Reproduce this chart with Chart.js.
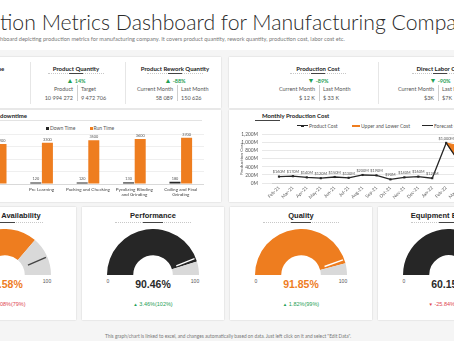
<!DOCTYPE html>
<html>
<head>
<meta charset="utf-8">
<title>Production Metrics Dashboard</title>
<script src="https://cdn.jsdelivr.net/npm/chart.js@4.4.1/dist/chart.umd.min.js"></script>
<style>
  html, body { margin:0; padding:0; }
  body { width:454px; height:341px; overflow:hidden; background:#f5f5f5; font-family:"Liberation Sans", Arial, sans-serif; color:#333; }
  #page { position:relative; width:454px; height:341px; overflow:hidden; }
  .t { position:absolute; white-space:nowrap; line-height:1; }
  .cx { transform:translate(-50%,-50%); }
  .rx { transform:translate(-100%,-50%); }
  .lx { transform:translate(0,-50%); }
  .card { position:absolute; background:#fff; box-shadow:0 0 1.5px rgba(0,0,0,0.18); }
  .ln { position:absolute; }
  canvas { position:absolute; }
</style>
</head>
<body>
<div id="page"></div>
<script>
// ---- KPI tiles ----
const kpiNames   = ['Product Quantity', 'Product Rework Quantity', 'Production Cost', 'Direct Labor Cost'];
const kpiChange  = ['14%', '-88%', '-89%', '-90%'];
const kpiArrow   = ['up', 'up', 'down', 'down'];
const kpiLabelA  = ['Product', 'Current Month', 'Current Month', 'Current Month'];
const kpiLabelB  = ['Target', 'Last Month', 'Last Month', 'Last Month'];
const kpiValueA  = ['10 994 272', '58 089', '$ 12 K', '$3K'];
const kpiValueB  = ['9 472 706', '150 626', '$ 33 K', '$7K'];

// ---- Machine downtime ----
const stages   = ['Saw', 'Pre Learning', 'Packing and Checking', ['Pyrolizing Blinding', 'and Grinding'], ['Coiling and Final', 'Grinding']];
const downTime = [120, 120, 120, 130, 180];
const runTime  = [3200, 3300, 3500, 3600, 3700];

// ---- Monthly production cost ----
const months        = ['Feb-21','Mar-21','Apr-21','May-21','Jun-21','Jul-21','Aug-21','Sep-21','Oct-21','Nov-21','Dec-21','Jan-22','Feb-22','Mar-22','Apr-22'];
const productCost   = [160, 170, 140, 120, 150, 130, 200, 190, 90, 140, 160, 120, 1000, null, null];
const forecastCost  = [null, null, null, null, null, null, null, null, null, null, null, null, 1000, 490, 520];
const upperCost     = [null, null, null, null, null, null, null, null, null, null, null, null, 1000, 920, 950];
const lowerCost     = [null, null, null, null, null, null, null, null, null, null, null, null, 1000, 490, 520];

// ---- OEE gauges ----
const gaugeNames   = ['Machine Availability', 'Performance', 'Quality', 'Equipment Efficiency'];
const gaugeValues  = [72.58, 90.46, 91.85, 60.15];
const gaugeTargets = [87, 88, 89, 75];
const gaugeDeltas  = ['-19.08%(79%)', '3.46%(102%)', '1.82%(99%)', '-25.84%(70%)'];
const gaugeTrend   = ['down', 'up', 'up', 'down'];

const ORANGE = '#ee7d1f', DARK = '#262626', GREY = '#d9d9d9', GREEN = '#1fa055', RED = '#e0454f';
const page = document.getElementById('page');
const mctx = document.createElement('canvas').getContext('2d');
const measure = (s, font) => { mctx.font = font; return mctx.measureText(s).width; };

function txt(str, x, y, align, style) {
  const d = document.createElement('div');
  d.className = 't ' + (align === 'c' ? 'cx' : align === 'r' ? 'rx' : 'lx');
  d.style.left = x + 'px'; d.style.top = y + 'px';
  Object.assign(d.style, style || {});
  d.textContent = str;
  page.appendChild(d);
  return d;
}
function rect(x, y, w, h, style, cls) {
  const d = document.createElement('div');
  d.className = cls || 'ln';
  Object.assign(d.style, { left: x + 'px', top: y + 'px', width: w + 'px', height: h + 'px' }, style || {});
  page.appendChild(d);
  return d;
}
function canvasAt(x, y, w, h) {
  const c = document.createElement('canvas');
  c.width = w; c.height = h;
  c.style.left = x + 'px'; c.style.top = y + 'px';
  c.style.width = w + 'px'; c.style.height = h + 'px';
  page.appendChild(c);
  return c;
}
function underline(cx, y, half, darkHalf) {
  rect(cx - half, y, half * 2, 0, { borderTop: '0.6px dotted #c8c8c8' });
  rect(cx - darkHalf, y - 0.3, darkHalf * 2, 1, { background: '#444' });
}

// ---- header ----
rect(0, 0, 454, 50, { background: '#fff' });
const titleFull = 'Production Metrics Dashboard for Manufacturing Company';
let tfs = 20;
tfs = tfs * 447 / measure('tion Metrics Dashboard for Manufacturing Comp', `300 ${tfs}px Lato`);
txt(titleFull, -measure('Produc', `300 ${tfs}px Lato`), 22, 'l', { font: `300 ${tfs}px Lato`, color: '#2a2a2a' });
const subFull = 'This slide showcases dashboard depicting production metrics for manufacturing company. It covers product quantity, rework quantity, production cost, labor cost etc.';
let sfs = 4.5;
sfs = sfs * 346 / measure('hboard depicting production metrics for manufacturing company. It covers product quantity, rework quantity, production cost, labor cost etc.', `${sfs}px Lato`);
txt(subFull, -measure('This slide showcases das', `${sfs}px Lato`), 37.5, 'l', { font: `${sfs}px Lato`, color: '#777' });

// ---- cards ----
rect(-10, 57, 231, 51, null, 'card');
rect(229, 57, 240, 51, null, 'card');
rect(-40, 110, 261, 92, null, 'card');
rect(229, 110, 240, 92, null, 'card');
const gaugeCx = [5, 153, 301, 449];
gaugeCx.forEach(cx => rect(cx - 71, 207, 142, 113, null, 'card'));

// ---- KPI tiles ----
txt('Machine Uptime', -18, 68, 'c', { font: 'bold 6px Lato', color: '#222' });
[30, 125, 378].forEach(x => rect(x, 62, 0.7, 42, { background: '#e6e6e6' }));
const kpiCx  = [76, 175, 318, 440];
const kpiSep = [77, 177, 319, 438];
kpiNames.forEach((name, i) => {
  const cx = kpiCx[i], sx = kpiSep[i];
  txt(name, cx, 68, 'c', { font: 'bold 6px Lato', color: '#222' });
  underline(cx, 73, 28, 7);
  const arrow = kpiArrow[i] === 'up' ? '\u25B2' : '\u25BC';
  const d = txt('', cx, 80, 'c', { font: 'bold 5.5px Lato', color: GREEN });
  d.innerHTML = `<span style="font-size:7px">${arrow}</span> ${kpiChange[i]}`;
  txt(kpiLabelA[i], sx - 4, 89, 'r', { font: '5.5px Lato', color: '#555' });
  txt(kpiLabelB[i], sx + 4, 89, 'l', { font: '5.5px Lato', color: '#555' });
  txt(kpiValueA[i], sx - 4, 98, 'r', { font: '5.5px Lato', color: '#555' });
  txt(kpiValueB[i], sx + 4, 98, 'l', { font: '5.5px Lato', color: '#555' });
  rect(sx, 85, 0.6, 16, { background: '#cfcfcf' });
});

// ---- section titles ----
txt('Machine downtime', -measure('Machine ', 'bold 6px Lato'), 115, 'l', { font: 'bold 6px Lato', color: '#222' });
rect(-10, 120, 212, 0.6, { background: '#e3e3e3' });
txt('Monthly Production Cost', 262, 115, 'l', { font: 'bold 6px Lato', color: '#222' });
rect(255, 119.5, 25, 1, { background: '#444' });

// legends
rect(45.5, 126.5, 3, 3, { background: DARK });
txt('Down Time', 50, 128, 'l', { font: '5px Lato', color: '#555' });
rect(89.5, 126.5, 3, 3, { background: ORANGE });
txt('Run Time', 93.5, 128, 'l', { font: '5px Lato', color: '#555' });

rect(297, 125.2, 11, 1.2, { background: DARK });
rect(301.3, 124.5, 2.5, 2.5, { background: DARK });
txt('Product Cost', 309, 125.7, 'l', { font: '5px Lato', color: '#555' });
rect(352, 124.7, 8, 2, { background: ORANGE });
txt('Upper and Lower Cost', 361, 125.7, 'l', { font: '5px Lato', color: '#555' });
rect(422, 125.2, 11, 1.2, { background: DARK });
txt('Forecast Cost', 434, 125.7, 'l', { font: '5px Lato', color: '#555' });

// value labels drawn above bars / points
const valueLabels = {
  id: 'valueLabels',
  afterDatasetsDraw(chart, args, opts) {
    const ctx = chart.ctx;
    ctx.save();
    ctx.font = `${opts.size}px Lato`;
    ctx.fillStyle = opts.color;
    ctx.textAlign = 'center';
    ctx.textBaseline = 'bottom';
    opts.datasets.forEach(di => {
      const meta = chart.getDatasetMeta(di);
      const data = chart.data.datasets[di].data;
      meta.data.forEach((el, j) => {
        if (data[j] == null) return;
        ctx.fillText(opts.format(data[j]), el.x, el.y - opts.gap);
      });
    });
    ctx.restore();
  }
};

// ---- downtime bar chart ----
new Chart(canvasAt(-28, 128, 232, 74), {
  type: 'bar',
  data: {
    labels: stages,
    datasets: [
      { label: 'Down Time', data: downTime, backgroundColor: DARK, categoryPercentage: 0.5, barPercentage: 0.95 },
      { label: 'Run Time', data: runTime, backgroundColor: ORANGE, categoryPercentage: 0.5, barPercentage: 0.95 }
    ]
  },
  options: {
    responsive: false, animation: false, devicePixelRatio: 1,
    layout: { padding: { top: 6, left: 0, right: 0, bottom: 0 } },
    plugins: {
      legend: { display: false }, tooltip: { enabled: false },
      valueLabels: { datasets: [0, 1], size: 3.8, color: '#555', gap: 1.5, format: v => String(v) }
    },
    scales: {
      x: { grid: { display: false, drawTicks: false }, border: { color: '#d9d9d9' },
           ticks: { font: { size: 4.6, family: 'Lato', lineHeight: 1.15 }, color: '#444', padding: 2.5, maxRotation: 0, autoSkip: false },
           afterFit(s) { s.height = 18; } },
      y: { min: 0, max: 4000, ticks: { display: false, stepSize: 1000 },
           grid: { color: '#efefef', drawTicks: false }, border: { display: false },
           afterFit(s) { s.width = 0; } }
    }
  },
  plugins: [valueLabels]
});

// ---- monthly production cost line chart ----
new Chart(canvasAt(239, 128, 246, 74), {
  type: 'line',
  data: {
    labels: months,
    datasets: [
      { label: 'Product Cost', data: productCost, borderColor: DARK, backgroundColor: DARK, borderWidth: 1.3,
        pointStyle: 'rect', pointRadius: 1.5, pointBackgroundColor: DARK, pointBorderWidth: 0, fill: false },
      { label: 'Forecast Cost', data: forecastCost, borderColor: DARK, borderWidth: 1.3, pointRadius: 0, fill: false },
      { label: 'Upper and Lower Cost', data: upperCost, borderColor: ORANGE, backgroundColor: ORANGE, borderWidth: 1, pointRadius: 0, fill: '+1' },
      { label: 'Lower Cost', data: lowerCost, borderColor: ORANGE, borderWidth: 1, pointRadius: 0, fill: false }
    ]
  },
  options: {
    responsive: false, animation: false, devicePixelRatio: 1,
    layout: { padding: { top: 5, left: 0, right: 0, bottom: 0 } },
    plugins: {
      legend: { display: false }, tooltip: { enabled: false },
      valueLabels: { datasets: [0], size: 3.8, color: '#555', gap: 2.5, format: v => '$' + v.toLocaleString('en-US') + 'M' }
    },
    scales: {
      x: { offset: true, grid: { display: false, drawTicks: false }, border: { color: '#d0d0d0' },
           ticks: { font: { size: 4.6, family: 'Lato' }, color: '#555', minRotation: 45, maxRotation: 45, autoSkip: false, padding: 2 },
           afterFit(s) { s.height = 19; } },
      y: { min: 0, max: 1200,
           ticks: { stepSize: 200, autoSkip: false, font: { size: 4.8, family: 'Lato' }, color: '#555', padding: 4,
                    callback: v => v.toLocaleString('en-US') + 'M' },
           grid: { color: '#e8e8e8', drawTicks: true, tickLength: 10 }, border: { display: false },
           title: { display: true, text: 'Production Cost', font: { size: 4.6, family: 'Lato' }, color: '#555', padding: 0 },
           afterFit(s) { s.width = 33; } }
    }
  },
  plugins: [valueLabels]
});

// ---- gauges ----
const targetMarker = {
  id: 'targetMarker',
  afterDatasetsDraw(chart, args, opts) {
    const arc = chart.getDatasetMeta(0).data[0];
    const a = Math.PI + opts.value / 100 * Math.PI;
    const r0 = arc.innerRadius + (arc.outerRadius - arc.innerRadius) * 0.2;
    const r1 = arc.outerRadius * 0.97;
    const ctx = chart.ctx;
    ctx.save();
    ctx.strokeStyle = opts.color;
    ctx.lineWidth = 1.4;
    ctx.beginPath();
    ctx.moveTo(arc.x + r0 * Math.cos(a), arc.y + r0 * Math.sin(a));
    ctx.lineTo(arc.x + r1 * Math.cos(a), arc.y + r1 * Math.sin(a));
    ctx.stroke();
    ctx.restore();
  }
};
const gaugeColors = [ORANGE, DARK, ORANGE, DARK];
gaugeNames.forEach((name, i) => {
  const cx = gaugeCx[i], cy = 275;
  txt(name, cx, 215, 'c', { font: 'bold 7.5px "Liberation Sans"', color: '#222' });
  underline(cx, 222, 38, 10);
  const v = gaugeValues[i];
  new Chart(canvasAt(cx - 46, cy - 46, 92, 46), {
    type: 'doughnut',
    data: { datasets: [{ data: [v, 100 - v], backgroundColor: [gaugeColors[i], GREY], borderWidth: 0, hoverOffset: 0, offset: 0 }] },
    options: {
      responsive: false, animation: false, devicePixelRatio: 1,
      rotation: -90, circumference: 180, cutout: '43%',
      layout: { padding: 0 },
      plugins: { legend: { display: false }, tooltip: { enabled: false },
                 targetMarker: { value: gaugeTargets[i], color: gaugeTargets[i] < v ? '#ffffff' : '#444444' } }
    },
    plugins: [targetMarker]
  });
  txt('0', cx - 45, 281, 'c', { font: '5px "Liberation Sans"', color: '#555' });
  txt('100', cx + 42, 281, 'c', { font: '5px "Liberation Sans"', color: '#555' });
  txt(v.toFixed(2) + '%', cx, 284, 'c', { font: 'bold 10.5px "Liberation Sans"', color: gaugeColors[i] === ORANGE ? ORANGE : '#2a2a2a' });
  const up = gaugeTrend[i] === 'up';
  const d = txt('', cx, 304, 'c', { font: '5.5px "Liberation Sans"', color: up ? GREEN : RED });
  d.innerHTML = `<span style="font-size:4.5px">${up ? '\u25B2' : '\u25BC'}</span> ${gaugeDeltas[i]}`;
});

// ---- footer ----
txt('This graph/chart is linked to excel, and changes automatically based on data. Just left click on it and select "Edit Data".',
    228, 336, 'c', { font: '4.8px Lato', color: '#777' });
</script>
</body>
</html>
